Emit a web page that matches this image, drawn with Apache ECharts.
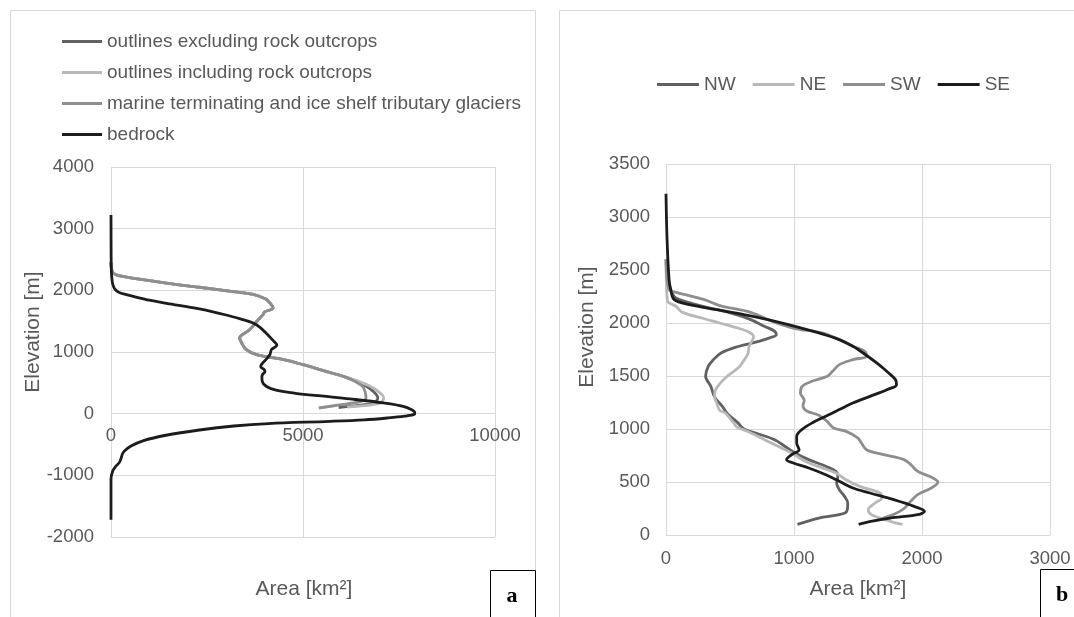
<!DOCTYPE html>
<html>
<head>
<meta charset="utf-8">
<script src="https://cdn.jsdelivr.net/npm/echarts@6/dist/echarts.min.js"></script>
<style>
html,body{margin:0;padding:0;background:#fff;}
#c{width:1074px;height:617px;}
</style>
</head>
<body>
<div id="c"></div>
<script>
// ---------- DATA (points are [area km², elevation m]) ----------
const leftXTicks = [0, 5000, 10000];
const leftYTicks = [-2000, -1000, 0, 1000, 2000, 3000, 4000];
const rightXTicks = [0, 1000, 2000, 3000];
const rightYTicks = [0, 500, 1000, 1500, 2000, 2500, 3000, 3500];

const leftNames = ['outlines excluding rock outcrops', 'outlines including rock outcrops',
  'marine terminating and ice shelf tributary glaciers', 'bedrock'];
const rightNames = ['NW', 'NE', 'SW', 'SE'];

const outlinesExcluding = [[0,2450],[20,2330],[100,2260],[400,2215],[1440,2118],[2300,2050],[3175,1980],[3700,1935],[4030,1860],[4130,1800],[4220,1715],[4000,1650],[3960,1605],[3800,1500],[3610,1360],[3350,1227],[3400,1150],[3525,1037],[3790,956],[4500,875],[5000,794],[5600,686],[6050,605],[6400,524],[6650,443],[6850,350],[6950,254],[6900,200],[6820,167],[6400,130],[5930,100]];
const outlinesIncluding = [[0,2450],[20,2330],[100,2260],[400,2215],[1440,2118],[2300,2050],[3175,1980],[3700,1935],[4030,1860],[4130,1800],[4220,1715],[4000,1650],[3960,1605],[3800,1500],[3610,1360],[3350,1227],[3400,1150],[3525,1037],[3790,956],[4500,875],[5000,794],[5600,686],[6050,605],[6450,524],[6750,443],[6980,350],[7100,254],[7060,200],[6990,167],[6600,130],[6150,108]];
const marineTerminating = [[0,2450],[20,2330],[100,2260],[400,2215],[1440,2118],[2300,2050],[3175,1980],[3700,1935],[4030,1860],[4130,1800],[4220,1715],[4000,1650],[3960,1605],[3800,1500],[3610,1360],[3350,1227],[3400,1150],[3525,1037],[3790,956],[4500,875],[5000,794],[5600,686],[6050,605],[6350,524],[6550,443],[6620,350],[6640,254],[6510,200],[5990,146],[5410,92]];
const bedrock = [[0,3220],[3,2600],[10,2300],[30,2150],[55,2080],[100,2020],[200,1970],[400,1930],[650,1890],[1000,1840],[1450,1790],[2300,1700],[3000,1600],[3400,1530],[3700,1470],[3880,1400],[4050,1300],[4200,1200],[4320,1110],[4180,1040],[4140,960],[4040,880],[3920,800],[3900,760],[3980,720],[4010,680],[3950,640],[3930,600],[3940,520],[4050,440],[4300,380],[4800,330],[5600,280],[6220,240],[7090,175],[7610,120],[7830,65],[7910,20],[7900,-10],[7650,-40],[7200,-70],[6600,-100],[5700,-125],[4100,-160],[3200,-200],[2300,-265],[1430,-350],[830,-440],[520,-525],[350,-605],[300,-650],[270,-710],[220,-790],[130,-850],[45,-930],[0,-1065],[0,-1720]];

const nw = [[0,2600],[15,2400],[37,2315],[77,2236],[290,2158],[503,2095],[662,2032],[769,1969],[849,1922],[862,1890],[810,1860],[700,1819],[540,1770],[430,1717],[370,1654],[330,1591],[309,1497],[350,1403],[380,1301],[440,1214],[480,1145],[560,1060],[606,1003],[700,962],[849,899],[928,837],[1008,774],[1115,711],[1248,648],[1327,601],[1343,554],[1333,491],[1354,428],[1394,365],[1420,302],[1412,223],[1354,192],[1194,160],[1027,100]];
const ne = [[0,2600],[5,2300],[11,2220],[18,2195],[77,2158],[130,2100],[300,2040],[420,2000],[560,1953],[640,1920],[670,1897],[684,1874],[680,1850],[650,1780],[640,1709],[610,1650],[570,1583],[480,1500],[420,1427],[380,1340],[380,1301],[396,1245],[420,1176],[463,1151],[529,1057],[554,1019],[636,978],[769,899],[875,837],[982,774],[1088,695],[1221,632],[1327,585],[1407,522],[1514,459],[1673,396],[1686,349],[1633,302],[1580,239],[1607,192],[1753,129],[1846,100]];
const sw = [[0,2600],[24,2315],[80,2289],[300,2220],[420,2164],[660,2101],[840,2010],[1000,1950],[1221,1906],[1354,1843],[1460,1780],[1553,1733],[1566,1686],[1460,1654],[1354,1607],[1301,1544],[1261,1497],[1141,1450],[1065,1403],[1050,1340],[1080,1270],[1070,1220],[1100,1170],[1194,1130],[1260,1070],[1310,1010],[1407,978],[1500,915],[1527,868],[1566,805],[1700,758],[1859,711],[1912,664],[1966,601],[2085,538],[2125,497],[2072,443],[1966,381],[1912,318],[1860,250],[1790,200],[1700,160],[1620,130]];
const se = [[0,3220],[8,2800],[24,2409],[37,2315],[64,2220],[184,2173],[396,2126],[609,2079],[795,2032],[1008,1969],[1194,1906],[1354,1843],[1460,1780],[1540,1717],[1646,1623],[1740,1528],[1793,1466],[1801,1418],[1726,1371],[1593,1308],[1460,1245],[1354,1183],[1248,1120],[1141,1057],[1061,994],[1021,931],[1021,868],[1040,805],[982,758],[942,711],[995,679],[1115,632],[1248,569],[1354,506],[1460,443],[1593,396],[1780,333],[1939,270],[2019,223],[1979,195],[1750,160],[1600,128],[1505,100]];

// ---------- STYLE ----------
const FONT = 'Liberation Sans, Arial, sans-serif';
const TXT = '#595959';
const GRID = '#d9d9d9';
const cDark = '#616161', cLight = '#b8b8b8', cMed = '#8e8e8e', cBlack = '#1c1c1c';

function mkSeries(name, data, color, xi, z) {
  return {
    name: name, type: 'line', xAxisIndex: xi, yAxisIndex: xi,
    data: data, showSymbol: false, symbol: 'none', smooth: 0.35,
    lineStyle: { color: color, width: 2.8 }, itemStyle: { color: color },
    z: z, animation: false
  };
}

function labelStyle(margin) {
  return { color: TXT, fontSize: 18.5, fontFamily: FONT, margin: margin, formatter: function (v) { return String(v); } };
}

function valAxis(ticks, extra) {
  return Object.assign({
    type: 'value',
    min: ticks[0], max: ticks[ticks.length - 1], interval: ticks[1] - ticks[0],
    axisTick: { show: false },
    splitLine: { show: true, lineStyle: { color: GRID, width: 1 } }
  }, extra);
}

const LEFT_TOP = 167, LEFT_H = 370;
// offset that brings the left x axis up to elevation 0
const zeroOffset = -LEFT_H * (0 - leftYTicks[0]) / (leftYTicks[leftYTicks.length - 1] - leftYTicks[0]);

const chart = echarts.init(document.getElementById('c'), null, { renderer: 'canvas' });
chart.setOption({
  animation: false,
  backgroundColor: '#fff',
  grid: [
    { left: 111, top: LEFT_TOP, width: 384, height: LEFT_H, containLabel: false },
    { left: 666, top: 164, width: 384, height: 371, containLabel: false }
  ],
  xAxis: [
    valAxis(leftXTicks, { gridIndex: 0, position: 'bottom', offset: zeroOffset,
      axisLine: { show: true, onZero: false, lineStyle: { color: GRID } }, axisLabel: labelStyle(13) }),
    valAxis(rightXTicks, { gridIndex: 1, axisLine: { show: true, onZero: false, lineStyle: { color: GRID } }, axisLabel: labelStyle(14) })
  ],
  yAxis: [
    valAxis(leftYTicks, { gridIndex: 0, axisLine: { show: false }, axisLabel: labelStyle(17) }),
    valAxis(rightYTicks, { gridIndex: 1, axisLine: { show: false }, axisLabel: labelStyle(16) })
  ],
  legend: [
    { data: leftNames, orient: 'vertical', left: 62, top: 32, padding: 0, itemWidth: 40, itemHeight: 3, itemGap: 12,
      icon: 'rect', selectedMode: false, textStyle: { color: TXT, fontSize: 19, fontFamily: FONT, lineHeight: 19 } },
    { data: rightNames, orient: 'horizontal', left: 657, top: 75, padding: 0, itemWidth: 42, itemHeight: 3, itemGap: 17,
      icon: 'rect', selectedMode: false, textStyle: { color: TXT, fontSize: 19, fontFamily: FONT, lineHeight: 19 } }
  ],
  series: [
    mkSeries(leftNames[0], outlinesExcluding, cDark, 0, 2),
    mkSeries(leftNames[1], outlinesIncluding, cLight, 0, 3),
    mkSeries(leftNames[2], marineTerminating, cMed, 0, 4),
    mkSeries(leftNames[3], bedrock, cBlack, 0, 5),
    mkSeries(rightNames[0], nw, cDark, 1, 2),
    mkSeries(rightNames[1], ne, cLight, 1, 3),
    mkSeries(rightNames[2], sw, cMed, 1, 4),
    mkSeries(rightNames[3], se, cBlack, 1, 5)
  ],
  graphic: [
    { type: 'rect', silent: true, shape: { x: 10.5, y: 10.5, width: 525, height: 620 }, style: { fill: 'none', stroke: GRID, lineWidth: 1 } },
    { type: 'rect', silent: true, shape: { x: 559.5, y: 10.5, width: 530, height: 620 }, style: { fill: 'none', stroke: GRID, lineWidth: 1 } },
    { type: 'text', silent: true, x: 33, y: 332, rotation: Math.PI / 2, style: { text: 'Elevation [m]', fill: TXT, font: '21px ' + FONT, align: 'center', verticalAlign: 'middle' } },
    { type: 'text', silent: true, x: 587, y: 327, rotation: Math.PI / 2, style: { text: 'Elevation [m]', fill: TXT, font: '21px ' + FONT, align: 'center', verticalAlign: 'middle' } },
    { type: 'text', silent: true, x: 304, y: 589, style: { text: 'Area [km²]', fill: TXT, font: '21px ' + FONT, align: 'center', verticalAlign: 'middle' } },
    { type: 'text', silent: true, x: 858, y: 589, style: { text: 'Area [km²]', fill: TXT, font: '21px ' + FONT, align: 'center', verticalAlign: 'middle' } },
    { type: 'rect', silent: true, shape: { x: 490.5, y: 570.5, width: 45, height: 60 }, style: { fill: '#fff', stroke: '#000', lineWidth: 1 } },
    { type: 'text', silent: true, x: 512, y: 596, style: { text: 'a', fill: '#000', font: 'bold 22px Liberation Serif, Times New Roman, serif', align: 'center', verticalAlign: 'middle' } },
    { type: 'rect', silent: true, shape: { x: 1040.5, y: 569.5, width: 50, height: 60 }, style: { fill: '#fff', stroke: '#000', lineWidth: 1 } },
    { type: 'text', silent: true, x: 1062, y: 595, style: { text: 'b', fill: '#000', font: 'bold 22px Liberation Serif, Times New Roman, serif', align: 'center', verticalAlign: 'middle' } }
  ]
});
</script>
</body>
</html>
